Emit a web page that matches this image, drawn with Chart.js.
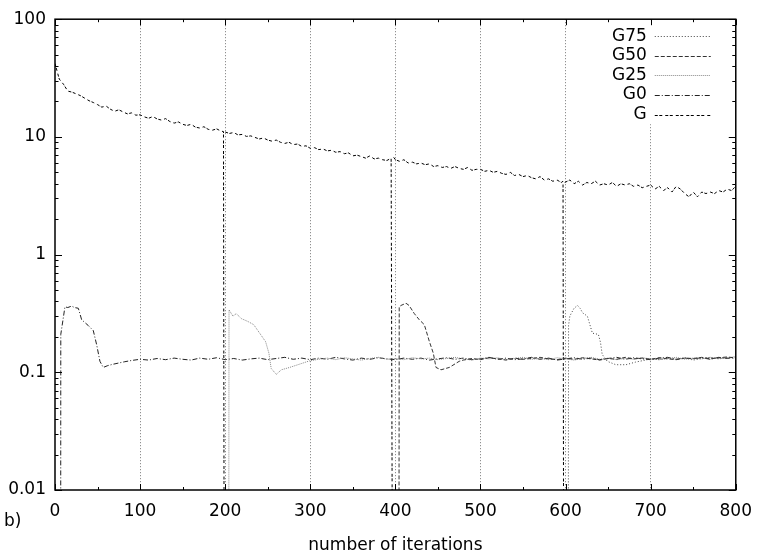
<!DOCTYPE html>
<html>
<head>
<meta charset="utf-8">
<script src="https://cdn.jsdelivr.net/npm/chart.js@4.4.1/dist/chart.umd.min.js"></script>
<style>
  html, body { margin: 0; padding: 0; background: #fff; }
  canvas { display: block; }
</style>
</head>
<body>
<canvas id="gradChart" width="763" height="557"></canvas>
<script>
// y axis decades and x axis range
const yDecades = [0.01, 0.1, 1, 10, 100];
const xMax = 800;

// G (total), read every 5 iterations; drops near 200/400/600 (null = break in the line)
const gIter = [0, 5, 10, 15, 20, 25, 30, 35, 40, 45, 50, 55, 60, 65, 70, 75, 80, 85, 90, 95,
  100, 105, 110, 115, 120, 125, 130, 135, 140, 145, 150, 155, 160, 165, 170, 175, 180, 185, 190, 195,
  198, 199, 199.5, 200, 205, 210, 215, 220, 225, 230, 235, 240, 245, 250, 255, 260, 265, 270, 275, 280, 285, 290, 295,
  300, 305, 310, 315, 320, 325, 330, 335, 340, 345, 350, 355, 360, 365, 370, 375, 380, 385, 390, 395,
  397, 397.5, 398, 400, 405, 410, 415, 420, 425, 430, 435, 440, 445, 450, 455, 460, 465, 470, 475, 480, 485, 490, 495,
  500, 505, 510, 515, 520, 525, 530, 535, 540, 545, 550, 555, 560, 565, 570, 575, 580, 585, 590, 595,
  597, 598, 598.5, 599, 605, 610, 615, 620, 625, 630, 635, 640, 645, 650, 655, 660, 665, 670, 675, 680, 685, 690, 695,
  700, 705, 710, 715, 720, 725, 730, 735, 740, 745, 750, 755, 760, 765, 770, 775, 780, 785, 790, 795, 800];
const gVal = [42, 31, 28, 24.5, 24, 23.2, 22.4, 21.3, 20.3, 19.6, 18.8, 17.9, 18.3, 17.2, 16.5, 17.0, 16.3, 15.7, 16.0, 15.3,
  15.4, 14.8, 14.4, 14.9, 14.2, 13.9, 14.3, 13.5, 13.1, 13.4, 12.8, 12.5, 12.8, 12.1, 11.9, 12.2, 11.6, 11.4, 11.7, 11.2,
  11.1, 0.0001, null, 11.0, 10.7, 10.9, 10.4, 10.5, 10.1, 10.2, 9.9, 9.6, 9.8, 9.4, 9.2, 9.4, 9.0, 8.8, 9.0, 8.6, 8.7, 8.3, 8.4,
  8.0, 8.1, 7.8, 7.9, 7.6, 7.7, 7.4, 7.5, 7.2, 7.3, 6.9, 7.0, 6.8, 6.6, 6.9, 6.5, 6.6, 6.4, 6.3, 6.6,
  0.0001, null, 6.7, 6.4, 6.2, 6.4, 6.0, 6.1, 5.9, 6.0, 5.8, 5.9, 5.6, 5.7, 5.5, 5.6, 5.4, 5.6, 5.4, 5.3, 5.5, 5.2, 5.3,
  5.3, 5.1, 5.2, 5.0, 5.1, 4.9, 4.8, 5.0, 4.7, 4.8, 4.6, 4.7, 4.5, 4.4, 4.6, 4.3, 4.4, 4.2, 4.3, 4.1,
  4.2, 0.0001, null, 4.1, 4.3, 4.0, 4.2, 3.9, 4.1, 4.0, 4.2, 3.9, 4.0, 3.9, 4.1, 3.8, 4.0, 3.9, 4.0, 3.8, 3.9, 3.7, 3.8,
  3.9, 3.6, 3.8, 3.5, 3.7, 3.4, 3.8, 3.6, 3.3, 3.1, 3.4, 3.1, 3.4, 3.3, 3.4, 3.3, 3.5, 3.4, 3.6, 3.5, 3.8];

// G0: starts at iteration ~7
const g0Iter = [6.6, 6.8, 11.7, 15, 19.5, 23, 27.4, 31.3, 35, 39, 45, 49, 52.8, 56.7, 62, 68, 75, 82, 90, 100,
  110, 120, 130, 140, 150, 160, 170, 180, 190, 200, 210, 220, 230, 240, 250, 260, 270, 280, 290, 300,
  310, 320, 330, 340, 350, 360, 370, 380, 390, 400, 410, 420, 430, 440, 450, 460, 470, 480, 490, 500,
  510, 520, 530, 540, 550, 560, 570, 580, 590, 600, 610, 620, 630, 640, 650, 660, 670, 680, 690, 700,
  710, 720, 730, 740, 750, 760, 770, 780, 790, 800];
const g0Val = [0.0001, 0.21, 0.36, 0.355, 0.365, 0.355, 0.35, 0.28, 0.265, 0.25, 0.226, 0.171, 0.124, 0.11, 0.114, 0.117, 0.12, 0.123, 0.126, 0.129,
  0.127, 0.131, 0.128, 0.132, 0.129, 0.127, 0.132, 0.129, 0.133, 0.128, 0.131, 0.127, 0.13, 0.132, 0.128, 0.131, 0.134, 0.129, 0.132, 0.128,
  0.132, 0.129, 0.134, 0.13, 0.127, 0.132, 0.129, 0.133, 0.13, 0.128, 0.132, 0.129, 0.132, 0.127, 0.13, 0.133, 0.129, 0.132, 0.128, 0.13,
  0.134, 0.129, 0.132, 0.128, 0.13, 0.134, 0.129, 0.132, 0.127, 0.13, 0.133, 0.129, 0.132, 0.128, 0.131, 0.134, 0.129, 0.133, 0.13, 0.128,
  0.132, 0.134, 0.129, 0.132, 0.13, 0.133, 0.129, 0.134, 0.131, 0.135];

// G25: starts at iteration ~204
const g25Iter = [204, 204.5, 209, 213, 219, 226.8, 233.5, 240.5, 247.5, 251.4, 254, 260, 266, 275.7, 287, 299,
  310, 320, 330, 340, 350, 360, 370, 380, 390, 400, 410, 420, 430, 440, 450, 460, 470, 480, 490, 500,
  510, 520, 530, 540, 550, 560, 570, 580, 590, 600, 610, 620, 630, 640, 650, 660, 670, 680, 690, 700,
  710, 720, 730, 740, 750, 760, 770, 780, 790, 800];
const g25Val = [0.0001, 0.34, 0.30, 0.315, 0.286, 0.27, 0.254, 0.215, 0.182, 0.145, 0.108, 0.096, 0.105, 0.11, 0.117, 0.125,
  0.129, 0.132, 0.128, 0.133, 0.13, 0.127, 0.131, 0.134, 0.129, 0.131, 0.128, 0.133, 0.13, 0.132, 0.128, 0.131, 0.134, 0.13, 0.127, 0.132,
  0.13, 0.133, 0.128, 0.131, 0.134, 0.129, 0.131, 0.128, 0.133, 0.13, 0.127, 0.131, 0.134, 0.129, 0.132, 0.128, 0.131, 0.129, 0.133, 0.13,
  0.128, 0.131, 0.134, 0.129, 0.132, 0.13, 0.134, 0.131, 0.133, 0.136];

// G50: starts at iteration ~404
const g50Iter = [404, 404.5, 406.6, 412.5, 416, 422.3, 428, 434, 440, 444.6, 447.7, 453.6, 463.4, 475,
  480, 490, 500, 510, 520, 530, 540, 550, 560, 570, 580, 590, 600, 610, 620, 630, 640, 650, 660, 670, 680, 690, 700,
  710, 720, 730, 740, 750, 760, 770, 780, 790, 800];
const g50Val = [0.0001, 0.36, 0.37, 0.386, 0.37, 0.315, 0.28, 0.254, 0.182, 0.145, 0.11, 0.105, 0.11, 0.124,
  0.127, 0.131, 0.128, 0.133, 0.13, 0.127, 0.132, 0.129, 0.131, 0.134, 0.13, 0.128, 0.132, 0.129, 0.133, 0.13, 0.127, 0.131, 0.129, 0.134, 0.13, 0.132, 0.129,
  0.133, 0.13, 0.128, 0.132, 0.131, 0.134, 0.13, 0.133, 0.135, 0.132];

// G75: starts at iteration ~603
const g75Iter = [603, 603.5, 605, 607, 610, 614, 617, 620, 625.6, 631.5, 638.5, 641, 643, 649, 659, 671, 682, 694,
  700, 710, 720, 730, 740, 750, 760, 770, 780, 790, 800];
const g75Val = [0.0001, 0.25, 0.30, 0.32, 0.35, 0.37, 0.35, 0.32, 0.30, 0.215, 0.21, 0.18, 0.142, 0.124, 0.116, 0.116, 0.122, 0.127,
  0.13, 0.128, 0.132, 0.129, 0.133, 0.127, 0.131, 0.134, 0.13, 0.133, 0.131];

const fontFamily = "'DejaVu Sans', sans-serif";
const fontSize = 17;

function toPoints(xs, ys) {
    return xs.map((x, i) => ({ x: x, y: ys[i] }));
}

function isDecade(v) {
    const l = Math.log10(v);
    return Math.abs(l - Math.round(l)) < 1e-6;
}

// gnuplot-like frame, inward ticks, key and panel tag
const gnuplotFrame = {
    id: 'gnuplotFrame',
    afterDatasetsDraw(chart) {
        const { ctx, chartArea: a, scales: { x, y } } = chart;
        ctx.save();

        // key (opaque, hides the grid behind it)
        const keyRight = a.right - 89;
        ctx.fillStyle = '#fff';
        ctx.fillRect(keyRight - 50, a.top + 1, 125, 104);
        ctx.font = fontSize + 'px ' + fontFamily;
        ctx.textAlign = 'right';
        ctx.textBaseline = 'middle';
        chart.data.datasets.forEach((ds, i) => {
            const yy = a.top + 17 + i * 19.6;
            ctx.fillStyle = '#000';
            ctx.fillText(ds.label, keyRight, yy);
            ctx.beginPath();
            ctx.strokeStyle = ds.borderColor;
            ctx.lineWidth = ds.borderWidth;
            ctx.setLineDash(ds.borderDash);
            ctx.moveTo(keyRight + 8, Math.round(yy) + 0.5);
            ctx.lineTo(keyRight + 64, Math.round(yy) + 0.5);
            ctx.stroke();
        });
        ctx.setLineDash([]);

        // inward tick marks on all four sides
        ctx.strokeStyle = '#000';
        ctx.lineWidth = 1;
        ctx.beginPath();
        x.ticks.forEach(t => {
            const px = Math.round(x.getPixelForValue(t.value)) + 0.5;
            const len = t.value % 100 === 0 ? 6 : 3;
            ctx.moveTo(px, a.bottom); ctx.lineTo(px, a.bottom - len);
            ctx.moveTo(px, a.top); ctx.lineTo(px, a.top + len);
        });
        y.ticks.forEach(t => {
            const py = Math.round(y.getPixelForValue(t.value)) + 0.5;
            const len = isDecade(t.value) ? 7 : 3.5;
            ctx.moveTo(a.left, py); ctx.lineTo(a.left + len, py);
            ctx.moveTo(a.right, py); ctx.lineTo(a.right - len, py);
        });
        ctx.stroke();
        ctx.lineWidth = 1.5;
        ctx.strokeRect(a.left, a.top, a.right - a.left, a.bottom - a.top);

        // panel tag
        ctx.fillStyle = '#000';
        ctx.textAlign = 'left';
        ctx.fillText('b)', 4, 522);
        ctx.restore();
    }
};

const gradChart = new Chart(document.getElementById('gradChart').getContext('2d'), {
    type: 'line',
    data: {
        datasets: [
            { label: 'G75', data: toPoints(g75Iter, g75Val), borderColor: '#444', borderWidth: 1, borderDash: [1, 2] },
            { label: 'G50', data: toPoints(g50Iter, g50Val), borderColor: '#333', borderWidth: 1, borderDash: [4, 2] },
            { label: 'G25', data: toPoints(g25Iter, g25Val), borderColor: '#888', borderWidth: 1, borderDash: [1, 1] },
            { label: 'G0', data: toPoints(g0Iter, g0Val), borderColor: '#222', borderWidth: 1, borderDash: [5, 2, 1, 2] },
            { label: 'G', data: toPoints(gIter, gVal), borderColor: '#000', borderWidth: 1, borderDash: [3, 1.5, 3, 3] }
        ]
    },
    options: {
        responsive: false,
        animation: false,
        devicePixelRatio: 1,
        layout: { padding: { top: 14, right: 26, left: 0, bottom: 0 } },
        elements: { point: { radius: 0 }, line: { tension: 0, fill: false } },
        plugins: { legend: { display: false }, tooltip: { enabled: false } },
        scales: {
            x: {
                type: 'linear',
                min: 0,
                max: xMax,
                afterFit: s => { s.height = 67; },
                ticks: {
                    stepSize: 50,
                    autoSkip: false,
                    maxRotation: 0,
                    padding: 11,
                    color: '#000',
                    font: { family: fontFamily, size: fontSize },
                    callback: v => (v % 100 === 0 ? String(v) : '')
                },
                grid: {
                    drawTicks: false,
                    lineWidth: 1,
                    color: c => (c.tick && c.tick.value % 100 === 0 && c.tick.value > 0 && c.tick.value < xMax) ? '#777' : 'rgba(0,0,0,0)'
                },
                border: { display: false, dash: [1, 2] },
                title: {
                    display: true,
                    text: 'number of iterations',
                    color: '#000',
                    font: { family: fontFamily, size: fontSize },
                    padding: { top: 0, bottom: 1 }
                }
            },
            y: {
                type: 'logarithmic',
                min: yDecades[0],
                max: yDecades[yDecades.length - 1],
                afterFit: s => { s.width = 55; },
                afterBuildTicks: s => {
                    const t = [];
                    yDecades.forEach((d, i) => {
                        t.push({ value: d });
                        if (i < yDecades.length - 1) {
                            for (let m = 2; m <= 9; m++) t.push({ value: Number((d * m).toPrecision(3)) });
                        }
                    });
                    s.ticks = t;
                },
                ticks: {
                    autoSkip: false,
                    padding: 9,
                    color: '#000',
                    font: { family: fontFamily, size: fontSize },
                    callback: v => (isDecade(v) ? String(Number(v.toPrecision(3))) : '')
                },
                grid: { display: false, drawTicks: false },
                border: { display: false }
            }
        }
    },
    plugins: [gnuplotFrame]
});
</script>
</body>
</html>
